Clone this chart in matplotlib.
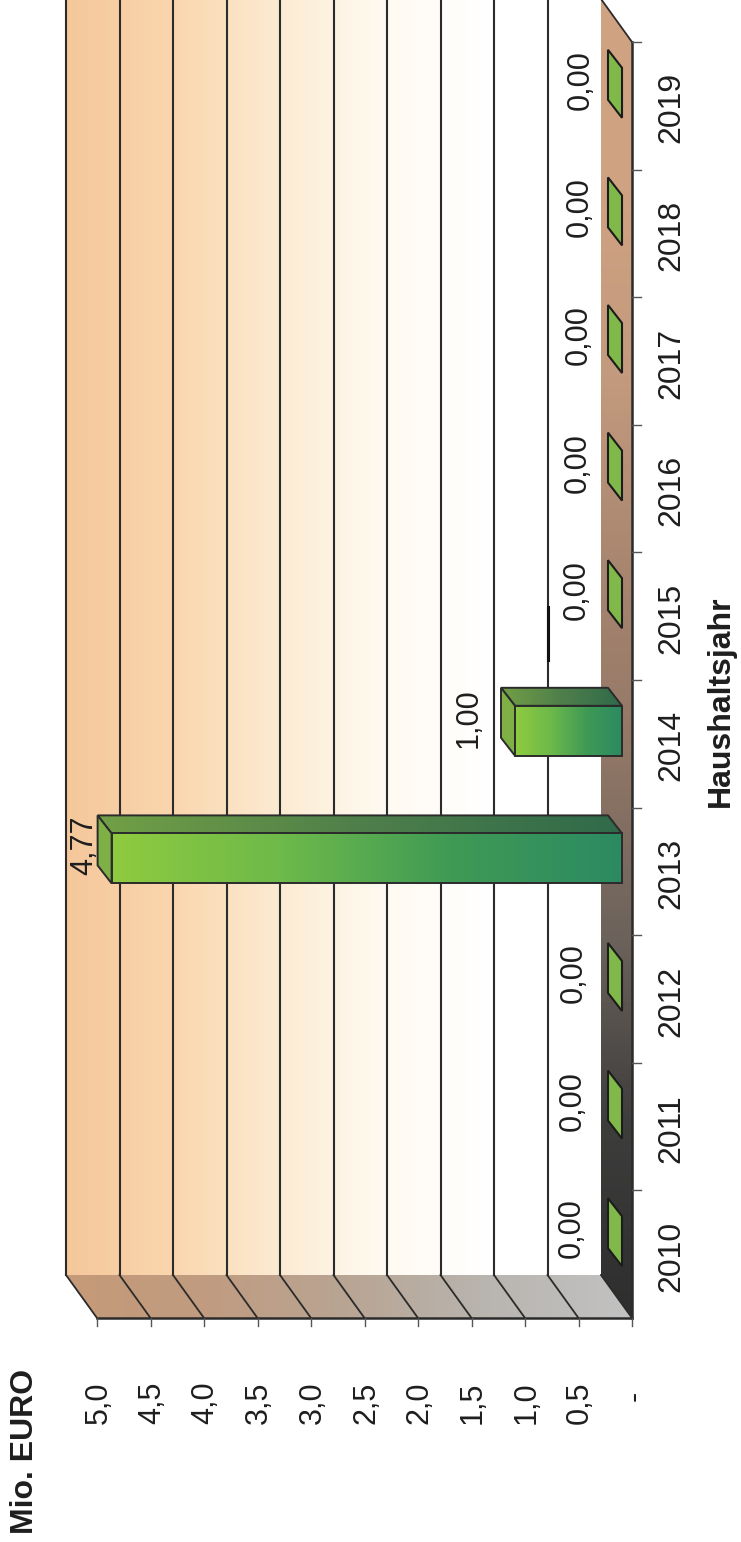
import matplotlib
matplotlib.use('Agg')
import matplotlib.pyplot as plt
import numpy as np
from matplotlib.colors import LinearSegmentedColormap
from matplotlib.patches import Polygon

years = ['2010', '2011', '2012', '2013', '2014', '2015', '2016', '2017', '2018', '2019']
values = [0.0, 0.0, 0.0, 4.77, 1.0, 0.0, 0.0, 0.0, 0.0, 0.0]
value_ticks = [0.0, 0.5, 1.0, 1.5, 2.0, 2.5, 3.0, 3.5, 4.0, 4.5, 5.0]
value_tick_labels = ['-', '0,5', '1,0', '1,5', '2,0', '2,5', '3,0', '3,5', '4,0', '4,5', '5,0']

W, H = 741, 1542
# scan is turned by 90 degrees: value runs right to left, years bottom to top
PX_VAL = 107.0
PX_CAT = 127.6
X0 = 632.0
Y0 = 1318.0

# 3d offsets in data units
WALL_DV = 31.0 / PX_VAL
WALL_DC = 43.0 / PX_CAT
BAR_OFF_V = 10.0 / PX_VAL
BAR_OFF_C = 13.0 / PX_CAT
BAR_DV = 14.0 / PX_VAL
BAR_DC = 18.0 / PX_CAT
BAR_W = 50.0 / PX_CAT

INK = '#2b2b2b'
TEXT = '#1e1e1e'

plt.rcParams['font.family'] = ['Liberation Sans', 'DejaVu Sans']


def gradient(ax, verts, colors, horizontal=True, zorder=1):
    # fill a polygon with a linear gradient along value or along category
    verts = np.array(verts)
    cmap = LinearSegmentedColormap.from_list('g', colors)
    ramp = np.linspace(0, 1, 256)
    img = ramp[np.newaxis, :] if horizontal else ramp[:, np.newaxis]
    ext = [verts[:, 0].min(), verts[:, 0].max(), verts[:, 1].min(), verts[:, 1].max()]
    im = ax.imshow(img, cmap=cmap, extent=ext, origin='lower', aspect='auto',
                   interpolation='bilinear', zorder=zorder)
    im.set_clip_path(Polygon(verts, closed=True, transform=ax.transData))


def outline(ax, verts, lw=1.4, zorder=1.5):
    ax.add_patch(Polygon(verts, closed=True, fill=False, edgecolor=INK, linewidth=lw, zorder=zorder))


fig = plt.figure(figsize=(W / 100, H / 100), dpi=100)
ax = fig.add_axes([0, 0, 1, 1])

n = len(years)
top_val = max(value_ticks)
top_cat = n + WALL_DC

# back wall, runs off the top edge of the page
wall = [(WALL_DV, WALL_DC), (top_val + WALL_DV, WALL_DC), (top_val + WALL_DV, top_cat), (WALL_DV, top_cat)]
gradient(ax, wall, ['#ffffff', '#ffffff', '#fffbf2', '#fcebd3', '#fad6ae', '#f5c79b'])

# side wall at the first year
side = [(0, 0), (top_val, 0), (top_val + WALL_DV, WALL_DC), (WALL_DV, WALL_DC)]
gradient(ax, side, ['#c2c2c2', '#b9b5b0', '#b8a594', '#c09c80', '#c59a78'])

# floor
floor = [(0, 0), (WALL_DV, WALL_DC), (WALL_DV, top_cat), (0, n)]
gradient(ax, floor, ['#2e2e2e', '#3d3d3c', '#6b625b', '#917766', '#a98670', '#c39a7d', '#cfa282', '#cfa282'],
         horizontal=False)

# grid lines on the walls
for v in value_ticks:
    if v > 0:
        ax.plot([v + WALL_DV, v + WALL_DV], [WALL_DC, top_cat], color=INK, lw=1.5, zorder=2)
    ax.plot([v, v + WALL_DV], [0, WALL_DC], color=INK, lw=1.3, zorder=2)
# the 0,5 line prints darker just above the 2014 bar
ax.plot([0.5 + WALL_DV] * 2, [5.16, 5.57], color='#111111', lw=2.2, zorder=2.1)

# axis lines and ticks
ax.plot([0, top_val], [0, 0], color=INK, lw=1.8, zorder=3)
ax.plot([0, 0], [0, n], color=INK, lw=1.8, zorder=3)
ax.plot([0, WALL_DV], [n, n + WALL_DC], color=INK, lw=1.3, zorder=3)
for v in value_ticks:
    ax.plot([v, v], [0, -8.0 / PX_CAT], color='#555555', lw=1.0, zorder=3)
for c in range(1, n + 1):
    ax.plot([0, -9.0 / PX_VAL], [c, c], color='#555555', lw=1.0, zorder=3)

# bars
for i, (year, val) in enumerate(zip(years, values)):
    v0 = BAR_OFF_V
    v1 = BAR_OFF_V + val
    c0 = i + 0.5 - BAR_W / 2 + BAR_OFF_C
    c1 = c0 + BAR_W
    vb0 = v0 + BAR_DV
    vb1 = v1 + BAR_DV
    cb0 = c0 + BAR_DC
    cb1 = c1 + BAR_DC
    if val > 0:
        top_face = [(v0, c1), (v1, c1), (vb1, cb1), (vb0, cb1)]
        gradient(ax, top_face, ['#2f6a4a', '#4f7f4a', '#72a046'], zorder=4)
        outline(ax, top_face, zorder=4.1)
        cap = [(v1, c0), (v1, c1), (vb1, cb1), (vb1, cb0)]
        ax.add_patch(Polygon(cap, closed=True, facecolor='#7fb045', edgecolor=INK, linewidth=1.4, zorder=4.2))
        front = [(v0, c0), (v1, c0), (v1, c1), (v0, c1)]
        gradient(ax, front, ['#2c8a62', '#3f9a55', '#6db94a', '#8fcb3f'], zorder=4.3)
        outline(ax, front, zorder=4.4)
    else:
        # zero height bars are only their flat top
        flat = [(v0, c0), (v0, c1), (vb0, cb1), (vb0, cb0)]
        ax.add_patch(Polygon(flat, closed=True, facecolor='#80b84a', edgecolor='#1c1c1c', linewidth=1.5, zorder=4))

    # labels drift a little with the page skew, the tallest one is squeezed against the wall
    lab_v = min(val + BAR_OFF_V + BAR_DV + (36.0 - i) / PX_VAL, 5.12)
    lab_c = i + 0.5 + BAR_OFF_C + BAR_DC - 5.0 / PX_CAT
    ax.text(lab_v, lab_c, ('%.2f' % val).replace('.', ','), rotation=90, ha='center', va='center',
            fontsize=22, color=TEXT, zorder=5)

# tick labels
for v, lab in zip(value_ticks, value_tick_labels):
    if lab == '-':
        ax.text(v - 3.0 / PX_VAL, -78.0 / PX_CAT, lab, rotation=90, ha='center', va='center', fontsize=22, color=TEXT)
    else:
        ax.text(v - 1.5 / PX_VAL, -85.0 / PX_CAT, lab, rotation=90, ha='center', va='center', fontsize=22, color=TEXT)
for i, year in enumerate(years):
    ax.text(-39.0 / PX_VAL, i + 0.5 - 2.0 / PX_CAT, year, rotation=90, ha='center', va='center',
            fontsize=23, color=TEXT)

# axis titles
ax.text(-89.0 / PX_VAL, 4.835, 'Haushaltsjahr', rotation=90, ha='center', va='center',
        fontsize=23, fontweight='bold', color=TEXT)
ax.text((X0 - 25.5) / PX_VAL, -133.0 / PX_CAT, 'Mio. EURO', rotation=90, ha='center', va='center',
        fontsize=23, fontweight='bold', color=TEXT)

ax.set_xlim(X0 / PX_VAL, (X0 - W) / PX_VAL)
ax.set_ylim((Y0 - H) / PX_CAT, Y0 / PX_CAT)
ax.axis('off')

fig.savefig('out.png', dpi=100)
